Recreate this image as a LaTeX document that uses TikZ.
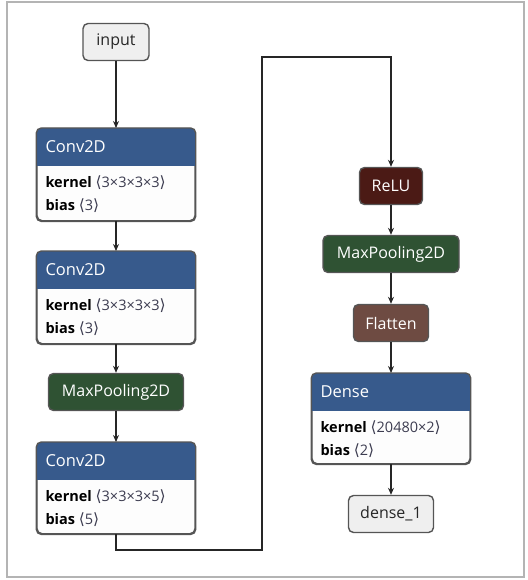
\documentclass[tikz,border=0pt]{standalone}
\usepackage{fontspec}
\setmainfont{Open Sans}
\newfontfamily\bracketfont{DejaVu Sans}
\usetikzlibrary{arrows.meta,calc}

\definecolor{hdrblue}{HTML}{375A8C}
\definecolor{poolgreen}{HTML}{2F5233}
\definecolor{relured}{HTML}{4B1A15}
\definecolor{flatbrown}{HTML}{6E4B42}
\definecolor{iofill}{HTML}{EFEFEF}
\definecolor{bodyfill}{HTML}{FDFDFD}
\definecolor{edgegray}{HTML}{555555}
\definecolor{valgray}{HTML}{3C3C50}
\definecolor{framegray}{HTML}{B4B4B4}

\tikzset{
  basebox/.style={draw=edgegray, line width=1.4pt, rounded corners=5pt,
    minimum height=37pt, inner sep=0pt, font=\fontsize{16}{18}\selectfont},
  iobox/.style={basebox, fill=iofill, text=black!85},
  poolbox/.style={basebox, fill=poolgreen, text=white},
  relubox/.style={basebox, fill=relured, text=white},
  flatbox/.style={basebox, fill=flatbrown, text=white},
  parambox/.style={draw=edgegray, line width=1.4pt, rounded corners=5pt,
    fill=bodyfill, inner sep=0pt},
  conn/.style={draw=black!85, line width=1.1pt,
    -{Stealth[length=7pt,width=6pt]}},
  paramtext/.style={anchor=west, inner sep=0pt, text=valgray,
    font=\fontsize{14.5}{16}\selectfont},
  titletext/.style={anchor=west, inner sep=0pt, text=white,
    font=\fontsize{16.5}{18}\selectfont},
}

% thin angle brackets round a shape
\newcommand\shapeof[1]{{\bracketfont\fontsize{15.5}{16}\selectfont⟨}#1{\bracketfont\fontsize{15.5}{16}\selectfont⟩}}

% a layer with weights: coloured title band over a list of parameters
\newcommand\paramlayer[7]{%
  \node[parambox, minimum width=#4, minimum height=#7, anchor=north] (#1) at #2 {};
  \begin{scope}
    \clip[rounded corners=5pt] (#1.south west) rectangle (#1.north east);
    \fill[hdrblue] (#1.north west) rectangle ([yshift=-38pt]#1.north east);
  \end{scope}
  \draw[edgegray, line width=1.4pt, rounded corners=5pt]
    (#1.south west) rectangle (#1.north east);
  \node[titletext] (#1-title) at ([xshift=9pt,yshift=-19pt]#1.north west) {#3};
  \node[paramtext] (#1-kernel) at ([xshift=9pt,yshift=-55pt]#1.north west)
    {\textbf{\color{black}kernel} \shapeof{#5}};
  \node[paramtext] (#1-bias) at ([xshift=9pt,yshift=-78pt]#1.north west)
    {\textbf{\color{black}bias} \shapeof{#6}};
}

\begin{document}
\begin{tikzpicture}[x=1pt, y=-1pt]
  \useasboundingbox (0,0) rectangle (527,580);
  \draw[framegray, line width=2pt] (7,2) rectangle (524,577);

  % left column
  \node[iobox, minimum width=66pt] (input) at (116,42) {input};
  \paramlayer{conv1}{(116,128)}{Conv2D}{158pt}{3×3×3×3}{3}{92pt}
  \paramlayer{conv2}{(116,251)}{Conv2D}{158pt}{3×3×3×3}{3}{92pt}
  \node[poolbox, minimum width=135pt] (pool1) at (116,392) {MaxPooling2D};
  \paramlayer{conv3}{(116,442)}{Conv2D}{158pt}{3×3×3×5}{5}{91pt}

  % right column
  \node[relubox, minimum width=63pt] (relu) at (391,186) {ReLU};
  \node[poolbox, minimum width=136pt] (pool2) at (391,254) {MaxPooling2D};
  \node[flatbox, minimum width=75pt] (flat) at (391,323) {Flatten};
  \paramlayer{dense}{(391,373)}{Dense}{158pt}{20480×2}{2}{90pt}
  \node[iobox, minimum width=85pt] (out) at (391,514) {dense\_1};

  % connectors
  \coordinate (bendlow) at (262,550);
  \coordinate (bendhigh) at (262,57);
  \draw[conn] (input) -- (conv1);
  \draw[conn] (conv1) -- (conv2);
  \draw[conn] (conv2) -- (pool1);
  \draw[conn] (pool1) -- (conv3);
  \draw[conn] (conv3.south) |- (bendlow) -- (bendhigh) -| (relu.north);
  \draw[conn] (relu) -- (pool2);
  \draw[conn] (pool2) -- (flat);
  \draw[conn] (flat) -- (dense);
  \draw[conn] (dense) -- (out);
\end{tikzpicture}
\end{document}
